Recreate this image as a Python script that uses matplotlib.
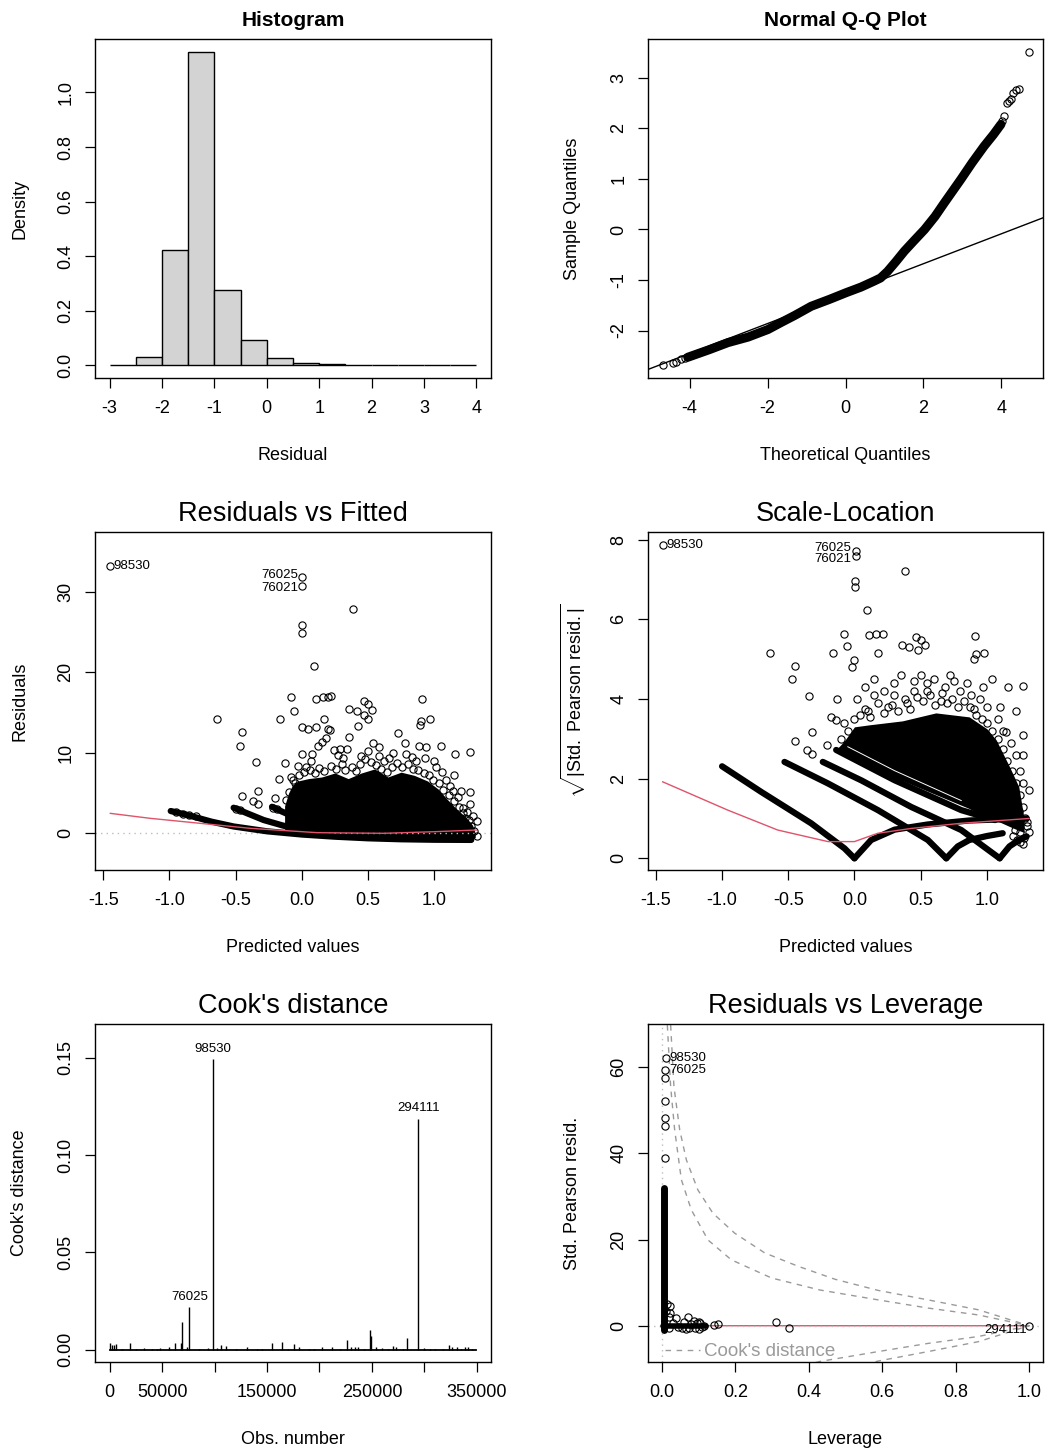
import numpy as np
import matplotlib.pyplot as plt

plt.rcParams['font.family'] = ['Liberation Sans', 'DejaVu Sans']
plt.rcParams['axes.unicode_minus'] = False
plt.rcParams['mathtext.fontset'] = 'custom'
plt.rcParams['mathtext.rm'] = 'Liberation Sans'
plt.rcParams['mathtext.it'] = 'Liberation Sans:italic'

RED = '#DF536B'
GREY = '#BEBEBE'
DASHGREY = '#9A9A9A'

# ---- histogram of residuals
hist_edges = [-3.0, -2.5, -2.0, -1.5, -1.0, -0.5, 0.0, 0.5, 1.0, 1.5, 2.0, 2.5, 3.0, 3.5, 4.0]
hist_density = [0.0, 0.030, 0.422, 1.150, 0.2755, 0.095, 0.0256, 0.0073, 0.0037, 0.0, 0.0, 0.0, 0.0, 0.0]

# ---- normal Q-Q
qq_band_x = [-4.05, -3.5, -3.02, -2.5, -1.99, -1.65, -1.3, -0.88, -0.4, 0.02, 0.4, 0.74, 0.9,
             1.08, 1.3, 1.51, 1.75, 2.03, 2.3, 2.54, 2.75, 2.96, 3.25, 3.56, 3.8, 3.99]
qq_band_y = [-2.53, -2.38, -2.24, -2.13, -1.98, -1.84, -1.70, -1.52, -1.38, -1.25, -1.14, -1.02, -0.96,
             -0.83, -0.63, -0.43, -0.23, 0.0, 0.26, 0.53, 0.76, 0.99, 1.32, 1.65, 1.88, 2.08]
qq_tail_x = [-4.68, -4.43, -4.35, -4.22, -4.12, 4.03, 4.08, 4.15, 4.2, 4.24, 4.31, 4.38, 4.45, 4.70]
qq_tail_y = [-2.69, -2.64, -2.62, -2.57, -2.55, 2.15, 2.24, 2.51, 2.55, 2.59, 2.71, 2.76, 2.79, 3.51]
qq_intercept = -1.27
qq_slope = 0.296

# ---- residuals vs fitted
rf_mass_x = [-0.13, -0.1, -0.07, -0.03, 0.05, 0.15, 0.25, 0.35, 0.45, 0.55, 0.65, 0.75, 0.85, 0.95,
             1.03, 1.10, 1.17, 1.24, 1.29, 1.31]
rf_mass_up = [3.4, 5.0, 6.0, 6.5, 6.8, 7.0, 7.5, 6.8, 7.5, 8.0, 7.0, 7.6, 7.2, 6.5,
              5.5, 4.2, 3.0, 2.0, 1.0, 0.0]
rf_mass_lo = [0.5, 0.4, 0.2, 0.0, -0.2, -0.35, -0.45, -0.55, -0.62, -0.7, -0.75, -0.78, -0.8, -0.82,
              -0.83, -0.84, -0.85, -0.85, -0.8, -0.5]
rf_streaks = [
    ([-0.99, -0.87, -0.68, -0.515, -0.263, 0.0, 0.25, 0.5, 0.75, 1.0, 1.28],
     [2.77, 2.3, 1.44, 0.85, 0.25, -0.15, -0.42, -0.62, -0.74, -0.8, -0.82]),
    ([-0.515, -0.4, -0.288, -0.15, -0.036], [3.18, 2.4, 1.65, 1.0, 0.5]),
    ([-0.225, -0.15, -0.06], [3.3, 2.7, 2.06]),
]
rf_pts_x = [0.384, 0.0, 0.0, 0.094, -0.082, 0.109, 0.16, 0.198, 0.218, 0.472, 0.50, 0.533, 0.36, 0.42,
            -0.056, -0.643, -0.162, 0.468, 0.50, 0.908, 0.90, 0.89, 0.97, 0.425, -0.452, -0.47, -0.348,
            -0.13, 0.165, 0.107, 0.2, 0.21, 0.0, 0.05, 0.353, 0.724, 1.05, 1.16, 1.27, 1.15, 1.14, 1.2,
            1.27, 1.27, 1.32, 1.32, -0.45, -0.33, -0.33, -0.37, 0.885, 0.94, 0.78, 0.54, 0.34, 0.24,
            0.29, 0.078, 0.0, 0.58, -0.17, -0.2, 0.15, 0.18, 0.31, 0.45, 0.62, 0.66, 0.83, 0.86, 1.0,
            1.01, 1.06, 1.09, 1.12, 0.03, -0.03, -0.08, -0.05, 1.18, 1.22, 1.25, 1.23, 1.29,
            -0.95, -0.9, -0.85, -0.8, -0.5, -0.47, -0.22, -0.19,
            -0.12, -0.1, -0.07, -0.02, 0.02, 0.06, 0.1, 0.13, 0.17, 0.22, 0.26, 0.3, 0.33, 0.38,
            0.41, 0.44, 0.48, 0.52, 0.56, 0.6, 0.64, 0.68, 0.72, 0.76, 0.8, 0.84, 0.88, 0.92, 0.96,
            0.99, 1.04, 1.07, 1.11, 1.15, 1.19, 1.22, 1.26, 1.28, 1.3, 0.07, 0.27, 0.5, 0.69, 0.79,
            0.93, 0.12, 0.58]
rf_pts_y = [27.9, 25.9, 24.9, 20.8, 16.96, 16.75, 16.96, 16.9, 17.1, 16.47, 16.1, 15.3, 15.4, 15.2,
            15.2, 14.2, 14.2, 14.7, 14.2, 16.75, 14.0, 13.4, 14.2, 13.35, 12.54, 10.8, 8.9,
            8.7, 14.2, 13.2, 13.0, 12.9, 13.2, 13.0, 12.0, 12.5, 10.8, 9.9, 10.1, 7.3, 5.3, 5.3,
            5.1, 3.6, 1.57, -0.3, 4.63, 5.3, 3.7, 4.0, 10.8, 10.7, 11.25, 11.25, 10.5, 10.3,
            10.5, 9.9, 9.9, 10.7, 6.7, 4.4, 11.3, 11.9, 9.3, 9.6, 9.0, 9.4, 9.5, 9.0, 9.0,
            8.2, 7.6, 6.6, 5.9, 8.3, 8.4, 7.0, 6.2, 4.5, 3.2, 2.6, 1.9, 2.2,
            2.6, 2.45, 2.3, 2.15, 3.05, 2.9, 3.2, 3.0,
            4.2, 5.1, 6.6, 7.2, 7.6, 7.9, 7.5, 8.1, 7.8, 8.4, 8.0, 8.6, 7.9, 8.2,
            7.7, 8.6, 9.2, 8.9, 8.5, 8.0, 7.6, 8.3, 8.8, 8.2, 8.6, 8.0, 7.9, 7.5, 7.2,
            6.6, 6.3, 5.4, 4.8, 4.0, 3.3, 2.5, 1.6, 0.9, 0.3, 9.0, 9.7, 10.2, 10.0, 9.8,
            9.4, 10.8, 9.6]
rf_lab_id = ['98530', '76025', '76021']
rf_lab_x = [-1.452, 0.0015, 0.0015]
rf_lab_y = [33.2, 31.8, 30.8]
rf_smooth_x = [-1.446, -1.144, -0.389, 0.115, 0.618, 1.0, 1.32]
rf_smooth_y = [2.48, 1.86, 0.62, 0.08, 0.0, 0.2, 0.41]

# ---- scale-location
sl_mass_x = [-0.14, -0.075, 0.0, 0.111, 0.362, 0.614, 0.866, 1.0, 1.07, 1.17, 1.24, 1.28]
sl_mass_up = [2.72, 2.95, 3.3, 3.35, 3.45, 3.65, 3.55, 3.25, 2.97, 2.3, 1.8, 1.0]
sl_mass_lo = [2.72, 2.6, 2.45, 2.3, 1.95, 1.6, 1.25, 1.0, 0.95, 0.8, 0.7, 0.65]
sl_gap_x = [-0.05, 0.303, 0.806]
sl_gap_y = [2.8, 2.2, 1.45]
sl_streaks = [
    ([-0.999, -0.705, -0.327, -0.075, 0.0], [2.31, 1.67, 0.88, 0.25, 0.0]),
    ([-0.528, -0.2, 0.177, 0.554, 0.693], [2.42, 1.88, 1.21, 0.46, 0.0]),
    ([-0.239, 0.05, 0.428, 0.806, 1.096], [2.42, 1.96, 1.29, 0.71, 0.0]),
    ([-0.138, 0.303, 0.806, 1.06], [2.72, 1.96, 1.21, 0.96]),
    ([0.0, 0.126, 0.303, 0.554, 0.868, 1.3], [0.0, 0.46, 0.72, 0.85, 0.95, 1.0]),
    ([0.693, 0.78, 0.867, 1.0, 1.119], [0.0, 0.3, 0.46, 0.56, 0.63]),
    ([1.096, 1.17, 1.242, 1.3], [0.0, 0.3, 0.46, 0.55]),
]
sl_pts_x = [0.383, 0.006, 0.006, 0.096, -0.08, 0.113, 0.163, 0.213, -0.639, -0.163, -0.055, 0.176,
            0.357, 0.415, 0.466, 0.504, 0.534, 0.479, 0.907, 0.902, 0.915, 0.975, -0.452, -0.47,
            -0.344, -0.128, 1.04, 1.16, 1.27, 1.22, 1.14, 1.27, 1.27, 1.317, 1.317, 1.27, -0.32,
            -0.45, -0.36, -0.32, -0.21, -0.18, -0.14, -0.007, -0.02, 0.02, 0.08, 0.15, 0.22, 0.3,
            0.35, 0.5, 0.55, 0.6, 0.68, 0.72, 0.8, 0.85, 0.95, 1.0, 1.08, 1.12, 1.18, 1.22, 1.25,
            1.27, 1.24, 1.2, 0.4, 0.25, 0.1, 0.65, 0.9, 0.97, 0.45, 1.3, 1.23, 1.25,
            0.0, 0.04, 0.08, 0.12, 0.18, 0.22, 0.28, 0.33, 0.38, 0.42, 0.47, 0.52, 0.57, 0.61,
            0.66, 0.7, 0.74, 0.78, 0.83, 0.87, 0.92, 0.96, 1.0, 1.04, 1.08, 1.12, 1.15, 1.19,
            1.22, 1.25, 1.27, 1.29, 1.3, 1.28, 1.25, 1.21, -0.05, -0.1, -0.08, 0.3, 0.55, 0.75,
            0.88, 1.1, 0.15, 0.45]
sl_pts_y = [7.2, 6.95, 6.80, 6.23, 5.63, 5.6, 5.63, 5.63, 5.16, 5.16, 5.33, 5.16,
            5.36, 5.3, 5.56, 5.48, 5.35, 5.23, 5.58, 5.0, 5.12, 5.16, 4.83, 4.49,
            4.08, 4.0, 4.49, 4.3, 4.33, 3.7, 3.17, 3.1, 2.6, 1.71, 0.66, 0.36, 3.16,
            2.94, 2.72, 2.63, 2.84, 3.55, 3.46, 4.99, 4.8, 4.0, 4.3, 4.5, 4.2, 4.1,
            4.6, 4.6, 4.2, 4.5, 4.3, 4.6, 4.2, 4.4, 4.0, 3.8, 3.5, 3.2, 2.9, 2.6, 2.2,
            1.9, 1.2, 0.55, 3.9, 3.8, 3.7, 3.95, 3.75, 4.3, 4.2, 0.8, 0.45, 0.65,
            3.5, 3.6, 3.75, 3.55, 3.9, 3.65, 3.85, 3.7, 4.0, 3.75, 4.05, 3.95, 4.1, 3.85,
            4.15, 3.9, 4.0, 3.8, 3.95, 3.8, 3.6, 3.5, 3.4, 3.2, 3.0, 2.75, 2.45, 2.2,
            1.9, 1.6, 1.3, 1.0, 0.9, 0.5, 0.4, 0.7, 3.2, 3.0, 3.4, 4.4, 4.4, 4.45,
            4.1, 3.8, 4.1, 4.45]
sl_lab_id = ['98530', '76025', '76021']
sl_lab_x = [-1.447, 0.008, 0.008]
sl_lab_y = [7.87, 7.71, 7.59]
sl_smooth_x = [-1.447, -0.956, -0.579, -0.2, 0.0, 0.177, 0.428, 0.806, 1.317]
sl_smooth_y = [1.92, 1.21, 0.71, 0.42, 0.42, 0.63, 0.75, 0.88, 1.0]

# ---- cook's distance
n_obs = 349500
cook_idx = [500, 1850, 4360, 5930, 12000, 19100, 25000, 32600, 40000, 45000, 48300, 56150, 61800,
            67770, 68710, 74050, 76025, 85000, 93820, 98530, 102000, 106380, 110460, 120000, 130550,
            140000, 145000, 155030, 163820, 170000, 175430, 180140, 190000, 195000, 202120, 212160,
            220000, 226280, 230370, 233500, 236650, 242000, 248260, 249200, 253900, 260000, 265000,
            269600, 272750, 280000, 283730, 294111, 299400, 305000, 310000, 318000, 322970, 326100,
            330800, 335000, 338650, 341800, 345000]
cook_d = [0.0036, 0.0024, 0.0024, 0.0027, 0.0006, 0.0036, 0.0005, 0.0007, 0.0006, 0.0005, 0.0007,
          0.0015, 0.0036, 0.0036, 0.0144, 0.0014, 0.0218, 0.0006, 0.0010, 0.1493, 0.0008, 0.0024,
          0.0019, 0.0006, 0.0015, 0.0005, 0.0006, 0.0036, 0.0041, 0.0006, 0.0027, 0.0015, 0.0005,
          0.0006, 0.0012, 0.0014, 0.0006, 0.0049, 0.0015, 0.0015, 0.0015, 0.0006, 0.0099, 0.0070,
          0.0015, 0.0008, 0.0006, 0.0019, 0.0015, 0.0006, 0.0058, 0.1187, 0.0008, 0.0006, 0.0005,
          0.0006, 0.0024, 0.0015, 0.0012, 0.0005, 0.0012, 0.0012, 0.0006]
cook_lab_id = ['98530', '294111', '76025']
cook_lab_x = [98530, 294111, 76025]
cook_lab_y = [0.1493, 0.1187, 0.0218]

# ---- residuals vs leverage
lv_col_x = [0.006, 0.006]
lv_col_y = [-1.0, 32.0]
lv_foot_x = [0.004, 0.12]
lv_foot_y = [0.0, 0.0]
lv_pts_x = [0.0074, 0.0074, 0.0074, 0.0074, 0.0074, 0.023, 0.023, 0.037, 0.071, 0.055, 0.087, 0.100,
            0.105, 0.114, 0.141, 0.153, 0.311, 0.3455, 0.03, 0.045, 0.06, 0.075, 0.08, 0.09, 0.095,
            0.11, 0.012, 0.015, 0.018, 0.02, 0.065, 0.1]
lv_pts_y = [57.6, 52.2, 48.3, 46.4, 38.9, 4.5, 2.94, 1.78, 1.93, -0.54, 1.2, 0.9,
            0.6, -0.15, 0.08, 0.3, 0.85, -0.54, 0.6, -0.3, 0.9, -0.6, 0.4, -0.5, 0.6,
            -0.3, 3.5, 5.0, 2.0, -0.6, -0.8, -0.7]
lv_lab_id = ['98530', '76025', '294111']
lv_lab_x = [0.010, 0.0074, 1.0]
lv_lab_y = [62.1, 59.4, 0.0]
lv_smooth_x = [0.0, 0.1, 0.35, 1.0]
lv_smooth_y = [0.1, 0.0, 0.0, 0.0]
# Cook's distance contours (0.5 and 1)
cd_outer_x = [0.0237, 0.0327, 0.0483, 0.0665, 0.098, 0.139, 0.198, 0.280, 0.371, 0.471, 0.589, 0.725, 0.862, 1.0]
cd_outer_y = [69.8, 55.5, 45.5, 38.5, 31.5, 26.1, 21.5, 16.9, 13.8, 10.8, 8.2, 6.0, 3.7, 0.0]
cd_inner_x = [0.0147, 0.0237, 0.0346, 0.0529, 0.080, 0.1255, 0.189, 0.298, 0.43, 0.589, 0.725, 0.862, 1.0]
cd_inner_y = [69.8, 55.5, 45.5, 33.9, 26.9, 19.9, 15.3, 11.1, 8.3, 6.0, 4.1, 2.5, 0.0]


W, H = 1057, 1452
fig = plt.figure(figsize=(W / 100, H / 100), dpi=100)


def panel(left, top, right, bottom):
    return fig.add_axes([left / W, 1 - bottom / H, (right - left) / W, (bottom - top) / H])


def style(ax, title, xlabel, ylabel, bold=False):
    if bold:
        ax.set_title(title, fontsize=15, fontweight='bold', y=1.056, va='center', pad=0)
    else:
        ax.set_title(title, fontsize=19.5, y=1.054, va='center', pad=0)
    ax.set_xlabel(xlabel, fontsize=13, va='center')
    ax.set_ylabel(ylabel, fontsize=13, va='center')
    ax.xaxis.set_label_coords(0.5, -0.230)
    ax.yaxis.set_label_coords(-0.190, 0.5)
    ax.tick_params(direction='out', length=7, width=0.9, labelsize=13)
    ax.tick_params(axis='x', pad=9)
    ax.tick_params(axis='y', pad=8, labelrotation=90)
    for lab in ax.get_yticklabels():
        lab.set_verticalalignment('center')
    for s in ax.spines.values():
        s.set_linewidth(1.0)


def circles(ax, x, y):
    ax.plot(x, y, 'o', ls='none', mfc='none', mec='black', ms=5.2, mew=0.8)


def band(ax, x, y, lw=5):
    ax.plot(x, y, color='black', lw=lw, solid_capstyle='round', solid_joinstyle='round')


def point_labels(ax, ids, xs, ys, offsets, ha):
    for lab, x, y, off in zip(ids, xs, ys, offsets):
        ax.annotate(lab, (x, y), xytext=off, textcoords='offset points',
                    ha=ha, va='center', fontsize=9.5)


# 1. Histogram
ax1 = panel(95, 39, 491, 378)
ax1.bar(hist_edges[:-1], hist_density, width=np.diff(hist_edges), align='edge',
        color='#D3D3D3', edgecolor='black', linewidth=1.0)
ax1.set_xlim(-3.28, 4.28)
ax1.set_ylim(-0.046, 1.196)
ax1.set_xticks(range(-3, 5))
ax1.set_yticks([0.0, 0.2, 0.4, 0.6, 0.8, 1.0])
ax1.set_yticklabels(['0.0', '0.2', '0.4', '0.6', '0.8', '1.0'])
style(ax1, 'Histogram', 'Residual', 'Density', bold=True)

# 2. Normal Q-Q
ax2 = panel(648, 39, 1043, 378)
ax2.axline((0, qq_intercept), slope=qq_slope, color='black', lw=1.0)
band(ax2, qq_band_x, qq_band_y, lw=6.5)
circles(ax2, qq_tail_x, qq_tail_y)
ax2.set_xlim(-5.07, 5.07)
ax2.set_ylim(-2.94, 3.77)
ax2.set_xticks([-4, -2, 0, 2, 4])
ax2.set_yticks([-2, -1, 0, 1, 2, 3])
style(ax2, 'Normal Q-Q Plot', 'Theoretical Quantiles', 'Sample Quantiles', bold=True)

# 3. Residuals vs Fitted
ax3 = panel(95, 532, 491, 870)
ax3.axhline(0, color=GREY, lw=1.0, ls=(0, (1, 3)))
ax3.fill_between(rf_mass_x, rf_mass_lo, rf_mass_up, color='black', lw=0)
for sx, sy in rf_streaks:
    band(ax3, sx, sy, lw=4.5)
circles(ax3, rf_pts_x, rf_pts_y)
circles(ax3, rf_lab_x, rf_lab_y)
ax3.plot(rf_smooth_x, rf_smooth_y, color=RED, lw=1.0)
point_labels(ax3, rf_lab_id[:1], rf_lab_x[:1], rf_lab_y[:1], [(3, 0)], 'left')
point_labels(ax3, rf_lab_id[1:], rf_lab_x[1:], rf_lab_y[1:], [(-3, 1.5), (-3, -1.5)], 'right')
ax3.set_xlim(-1.562, 1.429)
ax3.set_ylim(-4.56, 37.45)
ax3.set_xticks([-1.5, -1.0, -0.5, 0.0, 0.5, 1.0])
ax3.set_xticklabels(['-1.5', '-1.0', '-0.5', '0.0', '0.5', '1.0'])
ax3.set_yticks([0, 10, 20, 30])
style(ax3, 'Residuals vs Fitted', 'Predicted values', 'Residuals')

# 4. Scale-Location
ax4 = panel(648, 532, 1043, 870)
ax4.fill_between(sl_mass_x, sl_mass_lo, sl_mass_up, color='black', lw=0)
for sx, sy in sl_streaks:
    band(ax4, sx, sy, lw=4.5)
ax4.plot(sl_gap_x, sl_gap_y, color='white', lw=0.7)
circles(ax4, sl_pts_x, sl_pts_y)
circles(ax4, sl_lab_x, sl_lab_y)
ax4.plot(sl_smooth_x, sl_smooth_y, color=RED, lw=1.0)
point_labels(ax4, sl_lab_id[:1], sl_lab_x[:1], sl_lab_y[:1], [(3, 0)], 'left')
point_labels(ax4, sl_lab_id[1:], sl_lab_x[1:], sl_lab_y[1:], [(-3, 2.5), (-3, -2.5)], 'right')
ax4.set_xlim(-1.558, 1.423)
ax4.set_ylim(-0.293, 8.19)
ax4.set_xticks([-1.5, -1.0, -0.5, 0.0, 0.5, 1.0])
ax4.set_xticklabels(['-1.5', '-1.0', '-0.5', '0.0', '0.5', '1.0'])
ax4.set_yticks([0, 2, 4, 6, 8])
style(ax4, 'Scale-Location', 'Predicted values', r'$\sqrt{|\mathrm{Std.\ Pearson\ resid.}|}$')

# 5. Cook's distance
ax5 = panel(95, 1024, 491, 1362)
ax5.plot([1, n_obs], [0, 0], color='black', lw=1.3)
ax5.vlines(cook_idx, 0, cook_d, color='black', lw=1.0)
point_labels(ax5, cook_lab_id, cook_lab_x, cook_lab_y, [(0, 7.5)] * 3, 'center')
ax5.set_xlim(-13980, 363480)
ax5.set_ylim(-0.0063, 0.1673)
ax5.set_xticks(range(0, 350001, 50000))
ax5.set_xticklabels(['0', '50000', '', '150000', '', '250000', '', '350000'])
ax5.set_yticks([0.0, 0.05, 0.10, 0.15])
ax5.set_yticklabels(['0.00', '0.05', '0.10', '0.15'])
style(ax5, "Cook's distance", 'Obs. number', "Cook's distance")

# 6. Residuals vs Leverage
ax6 = panel(648, 1024, 1043, 1362)
ax6.axvline(0, color=GREY, lw=1.0, ls=(0, (1, 3)))
ax6.plot(lv_smooth_x, lv_smooth_y, color=RED, lw=1.0)
ax6.axhline(0, color=GREY, lw=1.0, ls=(0, (1, 3)))
for cx, cy in ((cd_outer_x, cd_outer_y), (cd_inner_x, cd_inner_y)):
    ax6.plot(cx, cy, color=DASHGREY, lw=1.0, ls=(0, (4, 4)))
    ax6.plot(cx, [-v for v in cy], color=DASHGREY, lw=1.0, ls=(0, (4, 4)))
band(ax6, lv_col_x, lv_col_y, lw=5)
band(ax6, lv_foot_x, lv_foot_y, lw=4)
circles(ax6, lv_pts_x, lv_pts_y)
circles(ax6, lv_lab_x, lv_lab_y)
point_labels(ax6, lv_lab_id[:2], lv_lab_x[:2], lv_lab_y[:2], [(3, 0), (3, 0)], 'left')
point_labels(ax6, lv_lab_id[2:], lv_lab_x[2:], lv_lab_y[2:], [(-1.5, -3)], 'right')
ax6.plot([0.042, 0.131], [0.036, 0.036], transform=ax6.transAxes, color=DASHGREY, lw=1.0, ls=(0, (4, 4)))
ax6.text(0.142, 0.030, "Cook's distance", transform=ax6.transAxes, color=DASHGREY,
         fontsize=13.5, ha='left', va='center')
ax6.set_xlim(-0.038, 1.038)
ax6.set_ylim(-8.42, 70.05)
ax6.set_xticks([0.0, 0.2, 0.4, 0.6, 0.8, 1.0])
ax6.set_xticklabels(['0.0', '0.2', '0.4', '0.6', '0.8', '1.0'])
ax6.set_yticks([0, 20, 40, 60])
style(ax6, 'Residuals vs Leverage', 'Leverage', 'Std. Pearson resid.')

fig.savefig('out.png', dpi=100)
